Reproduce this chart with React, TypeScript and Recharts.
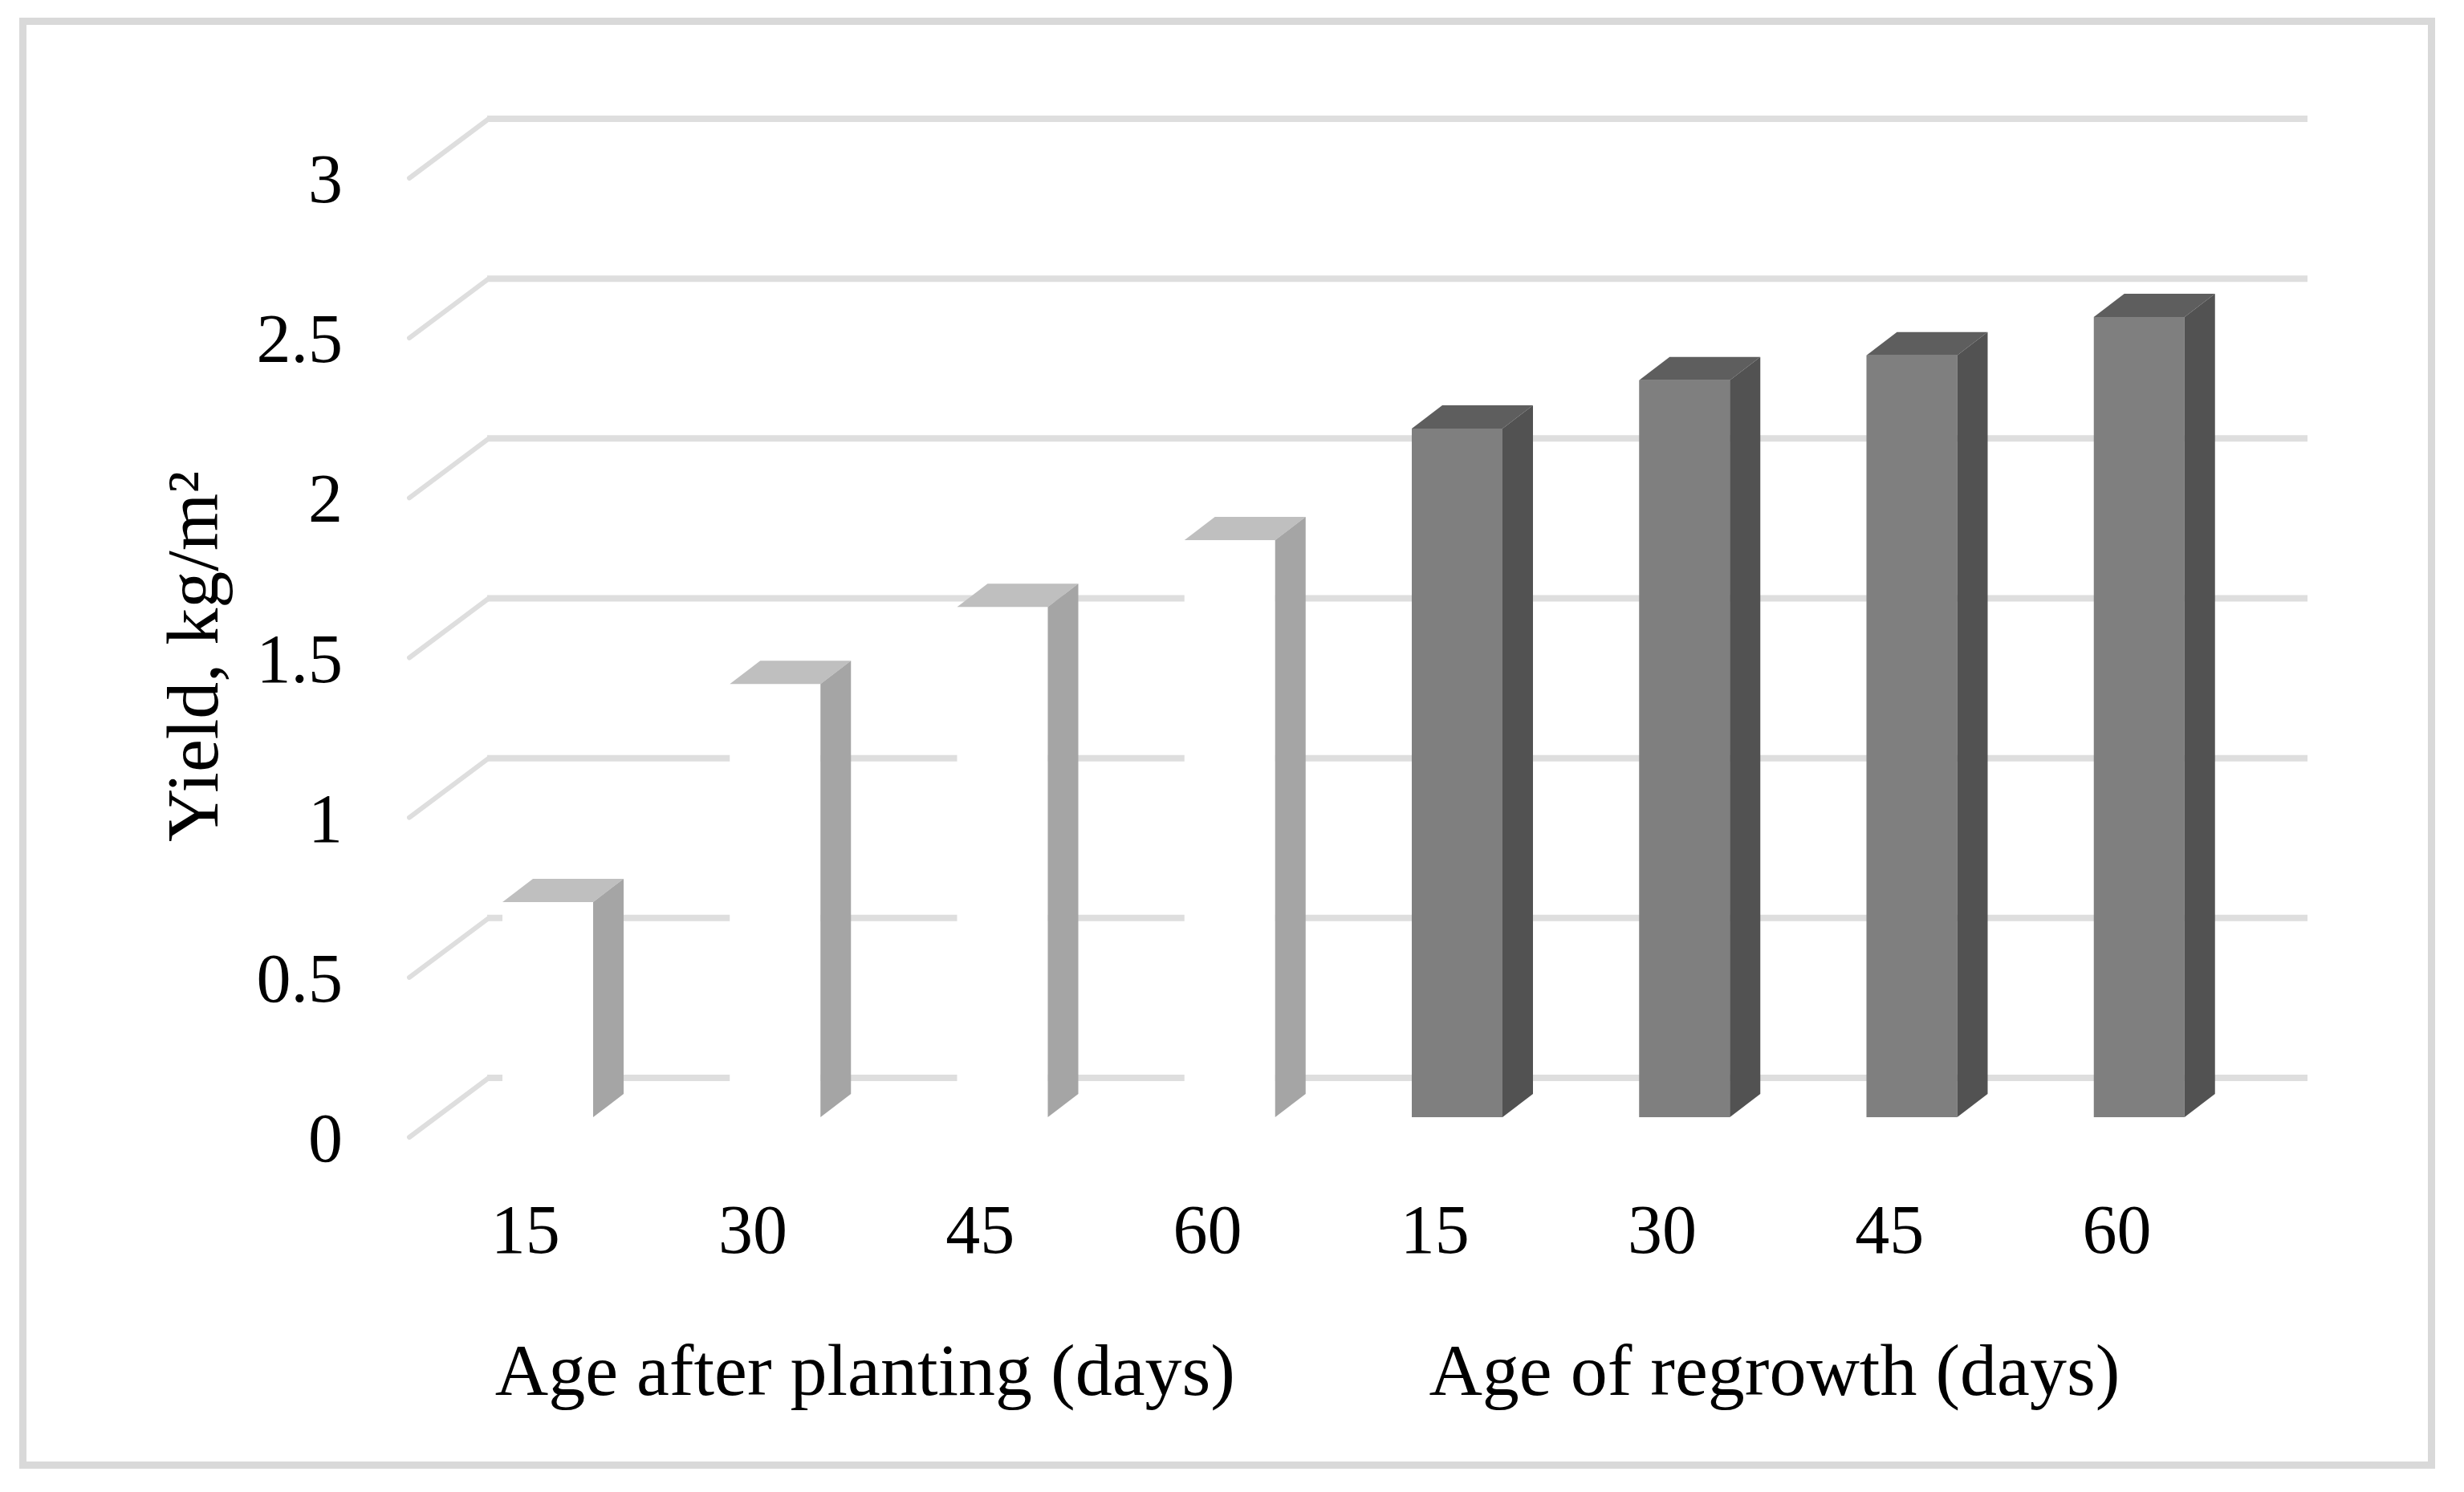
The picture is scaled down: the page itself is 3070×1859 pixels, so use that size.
import { BarChart, Bar, XAxis, YAxis, CartesianGrid, Label } from 'recharts';

const ageLabels = ['15', '30', '45', '60', '15', '30', '45', '60'];
const groupLabels = [
  'Age after planting (days)',
  'Age after planting (days)',
  'Age after planting (days)',
  'Age after planting (days)',
  'Age of regrowth (days)',
  'Age of regrowth (days)',
  'Age of regrowth (days)',
  'Age of regrowth (days)',
];
const yieldValues = [0.673, 1.355, 1.596, 1.805, 2.154, 2.305, 2.383, 2.503];
const yTicks = [0, 0.5, 1, 1.5, 2, 2.5, 3];

const chartData = ageLabels.map((age, i) => ({
  slot: i,
  age,
  group: groupLabels[i],
  value: yieldValues[i],
}));

const FONT = '"Liberation Serif", serif';
const TICK_SIZE = 86;
const LABEL_SIZE = 92;

// fake 3D: bars sit between the front axis plane and the back wall
const BAR_DEPTH_X = 38;
const BAR_DEPTH_Y = 29;
const FRONT_X = 31;
const FRONT_Y = 25;
const BACK_X = 68;
const BACK_Y = 49;

const PALETTES: Record<string, { front: string; top: string; side: string }> = {
  [groupLabels[0]]: { front: '#ffffff', top: '#bfbfbf', side: '#a5a5a5' },
  [groupLabels[4]]: { front: '#7f7f7f', top: '#5e5e5e', side: '#525252' },
};

function Bar3D({ x, y, width, height, payload }: any) {
  const c = PALETTES[payload.group];
  const right = x + width;
  const bottom = y + height;
  return (
    <g>
      <rect x={x} y={y} width={width} height={height} fill={c.front} />
      <polygon
        points={`${x},${y} ${x + BAR_DEPTH_X},${y - BAR_DEPTH_Y} ${right + BAR_DEPTH_X},${y - BAR_DEPTH_Y} ${right},${y}`}
        fill={c.top}
      />
      <polygon
        points={`${right},${y} ${right + BAR_DEPTH_X},${y - BAR_DEPTH_Y} ${right + BAR_DEPTH_X},${bottom - BAR_DEPTH_Y} ${right},${bottom}`}
        fill={c.side}
      />
    </g>
  );
}

function GridLine({ x1, x2, y1, index }: any) {
  return (
    <g key={`grid-${index}`}>
      <path
        d={`M${x1 - FRONT_X},${y1 + FRONT_Y} L${x1 + BACK_X},${y1 - BACK_Y}`}
        stroke="#dedede"
        strokeWidth={6}
        strokeLinecap="round"
        fill="none"
      />
      <path d={`M${x1 + BACK_X - 2},${y1 - BACK_Y} L${x2 + BACK_X},${y1 - BACK_Y}`} stroke="#dedede" strokeWidth={8} fill="none" />
    </g>
  );
}

function YTick({ y, payload }: any) {
  return (
    <text x={427} y={y + FRONT_Y + 30} textAnchor="end" fontFamily={FONT} fontSize={TICK_SIZE} fill="#000">
      {payload.value}
    </text>
  );
}

function AgeTick({ x, payload, index }: any) {
  return (
    <text x={x - 28} y={1561} textAnchor="middle" fontFamily={FONT} fontSize={TICK_SIZE} fill="#000">
      {ageLabels[index] ?? payload.value}
    </text>
  );
}

function GroupTick({ x, payload, index }: any) {
  // one label per group, centred under its four bars
  if (index !== 1 && index !== 5) return <g />;
  return (
    <text x={x + 112} y={1738} textAnchor="middle" fontFamily={FONT} fontSize={LABEL_SIZE} fill="#000">
      {payload.value}
    </text>
  );
}

export default function App() {
  return (
    <div style={{ position: 'absolute', left: 0, top: 0, width: 3070, height: 1859, background: '#fff' }}>
      <div
        style={{
          position: 'absolute',
          left: 24,
          top: 22,
          width: 3010,
          height: 1808,
          boxSizing: 'border-box',
          border: '9px solid #d9d9d9',
        }}
      />
      <div style={{ position: 'absolute', left: 0, top: 0 }}>
        <BarChart
          width={3070}
          height={1859}
          data={chartData}
          margin={{ top: 197, right: 263, bottom: 0, left: 0 }}
          barSize={113}
        >
          <CartesianGrid vertical={false} horizontal={GridLine as any} />
          <XAxis
            dataKey="slot"
            xAxisId={0}
            type="category"
            height={230}
            interval={0}
            axisLine={false}
            tickLine={false}
            tick={AgeTick as any}
          />
          <XAxis
            dataKey="group"
            xAxisId={1}
            type="category"
            height={237}
            interval={0}
            axisLine={false}
            tickLine={false}
            tick={GroupTick as any}
          />
          <YAxis
            domain={[0, 3]}
            ticks={yTicks}
            width={541}
            axisLine={false}
            tickLine={false}
            tick={YTick as any}
          >
            <Label
              content={() => (
                <text
                  transform="translate(271,818) rotate(-90)"
                  textAnchor="middle"
                  fontFamily={FONT}
                  fontSize={LABEL_SIZE}
                  fill="#000"
                >
                  Yield, kg/m²
                </text>
              )}
            />
          </YAxis>
          <Bar dataKey="value" xAxisId={0} shape={Bar3D as any} isAnimationActive={false} />
        </BarChart>
      </div>
    </div>
  );
}
